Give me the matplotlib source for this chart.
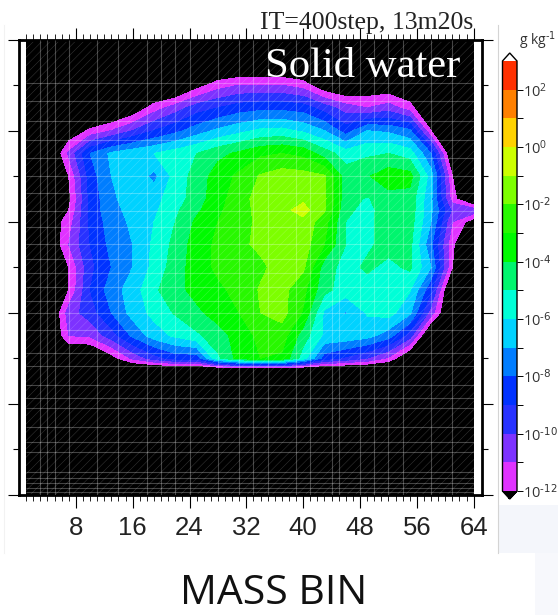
import numpy as np
import matplotlib
matplotlib.use("Agg")
import matplotlib.pyplot as plt
from matplotlib.colors import ListedColormap, BoundaryNorm
from matplotlib.lines import Line2D
from matplotlib.patches import Rectangle

plt.rcParams["mathtext.default"] = "regular"
plt.rcParams["hatch.linewidth"] = 0.4

# mass bins and heights of the data grid
mass_bins = [1, 4, 7, 10, 13, 16, 19, 22, 25, 28, 31, 34, 37, 40, 43, 46, 49, 52, 55, 58, 61, 64]
heights = [0, 2.5, 2.75, 3, 3.5, 4, 4.5, 5, 5.5, 6, 6.25, 6.5, 7, 7.5, 8, 8.5, 9, 9.5, 10]

# log10 of solid water [g/kg], one row per height
E = [-14] * 22
row_000 = E
row_250 = E
row_275 = E
row_300 = [-14, -14, -14, -14, -12.5, -10.8, -9.5, -8.6, -8.6, -5.2, -3.6, -3, -3.2, -5.5, -8.5, -9.2, -10, -11.2, -13.5, -14, -14, -14]
row_350 = [-14, -14, -11, -10.8, -9.5, -7.8, -6.5, -5.8, -5.2, -4.4, -3.6, -2.7, -2.5, -4.5, -6.2, -6.3, -6.6, -7.5, -9.5, -14, -14, -14]
row_400 = [-14, -14, -10.5, -9.5, -8, -6.6, -5.7, -4.9, -4.2, -3.6, -3, -2, -1.6, -3.1, -6.2, -7.1, -5.9, -5.6, -6.8, -10.5, -14, -14]
row_450 = [-14, -14, -12, -9, -7.5, -6.5, -5.2, -4.3, -3.7, -3.2, -2.7, -1.9, -1.7, -2.7, -4.7, -5.5, -5.5, -5.5, -5.9, -8.8, -14, -14]
row_500 = [-14, -14, -12, -9.3, -8, -7, -5.7, -4.5, -3.5, -2.8, -2.5, -2.2, -1.6, -1.8, -4.5, -5.4, -4.8, -5.3, -4.8, -7, -12, -14]
row_550 = [-14, -13.5, -11, -9, -7.7, -7, -5.8, -4.7, -3.5, -2.8, -2.2, -1.8, -1.5, -1.5, -3, -5, -5.2, -4.6, -4.7, -7.8, -11.8, -14]
row_600 = [-14, -13, -11.5, -8.8, -7.5, -6.8, -6, -5, -3.8, -3, -2.5, -1.7, -1.2, -1.3, -2.6, -5, -5.2, -4.6, -4.5, -7, -11, -12.6]
row_625 = [-14, -14, -12, -8.7, -7.3, -6.7, -6.2, -5.2, -4.2, -3.2, -2.4, -1.7, -1.3, -0.6, -1.9, -4.8, -5.3, -4.5, -4.4, -6.8, -10.2, -10.3]
row_650 = [-14, -14, -12.3, -8.7, -7.2, -6.5, -6.3, -5.5, -4.5, -3.4, -2.4, -1.6, -1.3, -1.2, -1.8, -4.6, -5.1, -4.4, -4.4, -6.8, -11.5, -14]
row_700 = [-14, -14, -12, -8.5, -7, -6.3, -7.3, -5.6, -4.6, -3.5, -2.8, -1.9, -1.5, -1.6, -1.9, -4.5, -4.1, -3.4, -3.6, -6.5, -12, -14]
row_750 = [-14, -14, -10.8, -8, -6.8, -6.3, -6, -5.5, -5, -4.3, -3.8, -3.2, -3, -3.3, -4.5, -5.5, -5.2, -5, -5.5, -8, -13.5, -14]
row_800 = [-14, -14, -13, -11.8, -11, -10, -9, -8.3, -7.5, -6.8, -6.3, -5.8, -5.7, -6.2, -7, -8.5, -7, -7.2, -7.8, -12, -14, -14]
row_850 = [-14, -14, -14, -14, -14, -13, -11.5, -10.5, -9.5, -9, -8.5, -8.3, -8.3, -8.5, -9.5, -10.5, -11, -10.5, -11.5, -14, -14, -14]
row_900 = [-14, -14, -14, -14, -14, -14, -14, -14, -12.5, -11.5, -11, -11, -11, -11.5, -13, -13.5, -13, -13, -13.5, -14, -14, -14]
row_950 = E
row_999 = E

# bands of the colour scale, bottom to top
levels = list(range(-12, 4))
band_colors = ["#e032ff", "#7d32ff", "#2832ff", "#0032ff", "#007dff", "#00d2ff", "#00ffd7",
               "#00f56e", "#00fa00", "#28f800", "#7dff00", "#cdff00", "#ffd200", "#ff8000", "#ff3000"]
bar_ticks = [-12, -10, -8, -6, -4, -2, 0, 2]
bar_labels = ["10$^{\\text{-12}}$", "10$^{\\text{-10}}$", "10$^{\\text{-8}}$", "10$^{\\text{-6}}$",
              "10$^{\\text{-4}}$", "10$^{\\text{-2}}$", "10$^{0}$", "10$^{2}$"]
bar_minor = [-11, -9, -7, -5, -3, -1, 1]

x_ticks = [8, 16, 24, 32, 40, 48, 56, 64]

# model grid lines
grid_x = [3, 4, 5, 7, 11, 14, 18, 20, 22, 24, 28, 31, 33, 35, 39, 41, 44, 45, 48, 50, 52, 54, 58, 61]
grid_y = [0.07, 0.15, 0.26, 0.37, 0.51, 0.94, 1.16, 1.49, 1.91, 2.13, 2.42, 2.84, 3.12, 3.63, 4.0, 4.26, 4.57,
          4.88, 5.19, 5.5, 5.89, 6.24, 6.64, 7.0, 7.4, 7.8, 8.22, 8.64, 9.05]


def main():
    fig = plt.figure(figsize=(5.58, 6.15), dpi=100)
    w, h = 558.0, 615.0

    # faint slide background around the picture
    fig.add_artist(Rectangle((498 / w, 1 - 553 / h), 60 / w, 48 / h, transform=fig.transFigure,
                             facecolor="#f4f6fb", edgecolor="none"))
    fig.add_artist(Rectangle((535 / w, 0), 23 / w, 62 / h, transform=fig.transFigure,
                             facecolor="#f7f8fc", edgecolor="none"))
    fig.add_artist(Line2D([498 / w, 498 / w], [1 - 553 / h, 1 - 25 / h], color="#d4d4d4", lw=0.8))
    fig.add_artist(Line2D([4 / w, 4 / w], [1 - 553 / h, 1 - 25 / h], color="#f2f2f2", lw=0.8))

    ax = fig.add_axes([19 / w, 1 - 495 / h, 462.5 / w, 455.5 / h])
    ax.set_facecolor("white")

    data = np.array([row_000, row_250, row_275, row_300, row_350, row_400, row_450, row_500, row_550,
                     row_600, row_625, row_650, row_700, row_750, row_800, row_850, row_900, row_950, row_999])

    cmap = ListedColormap(band_colors)
    cmap.set_under("black")
    cmap.set_over("white")
    norm = BoundaryNorm(levels, cmap.N)
    cs = ax.contourf(mass_bins, heights, data, levels=levels, cmap=cmap, norm=norm, extend="both")

    ax.add_patch(Rectangle((1, 0), 63, 10, facecolor="none", edgecolor=(1, 1, 1, 0.2), hatch="////", lw=0, zorder=2))
    ax.vlines(grid_x, 0, 10, color="white", alpha=0.27, lw=0.8, zorder=3)
    ax.hlines(grid_y, 1, 64, color="white", alpha=0.27, lw=0.8, zorder=3)

    ax.set_xlim(0, 65.1)
    ax.set_ylim(0, 10)
    ax.set_xticks(x_ticks)
    ax.set_xticks(range(1, 65), minor=True)
    ax.set_yticks([0, 2, 4, 6, 8, 10])
    ax.set_yticks([1, 3, 5, 7, 9], minor=True)
    ax.set_yticklabels([])
    ax.tick_params(axis="x", which="major", length=9, width=0.8, top=True, labelsize=18.5, pad=6, labelcolor="#222222")
    ax.tick_params(axis="x", which="minor", length=4, width=0.6, top=True)
    ax.tick_params(axis="y", which="major", length=8, width=0.8, right=True)
    ax.tick_params(axis="y", which="minor", length=4, width=0.8, right=True)
    for label in ax.get_xticklabels():
        label.set_family("Liberation Sans")
    for spine in ax.spines.values():
        spine.set_linewidth(2)

    fig.text(473 / w, 1 - 29 / h, "IT=400step, 13m20s", family="Liberation Serif", fontsize=18.5,
             ha="right", va="baseline", color="#222222")
    fig.text(460 / w, 1 - 77 / h, "Solid water", family="Liberation Serif", fontsize=30.7,
             ha="right", va="baseline", color="white", zorder=5)

    # colour bar
    cax = fig.add_axes([502.5 / w, 1 - 499 / h, 14.5 / w, 446 / h])
    cbar = fig.colorbar(cs, cax=cax, extendfrac=0.0186)
    cbar.set_ticks(bar_ticks, labels=bar_labels)
    cbar.set_ticks(bar_minor, minor=True)
    cbar.ax.tick_params(which="major", length=4, width=0.7, labelsize=10.5, pad=0.5, labelcolor="#333333")
    cbar.ax.tick_params(which="minor", length=4, width=0.7)
    for label in cbar.ax.get_yticklabels():
        label.set_family("Open Sans")
    cbar.outline.set_linewidth(1)
    fig.text(519 / w, 1 - 45 / h, "g kg$^{\\text{-1}}$", family="Open Sans", fontsize=10, color="#333333")

    fig.text(274 / w, 1 - 604 / h, "MASS BIN", family="Open Sans", fontsize=29.5, ha="center", va="baseline",
             color="#111111")

    fig.savefig("out.png", dpi=100)


if __name__ == "__main__":
    main()
